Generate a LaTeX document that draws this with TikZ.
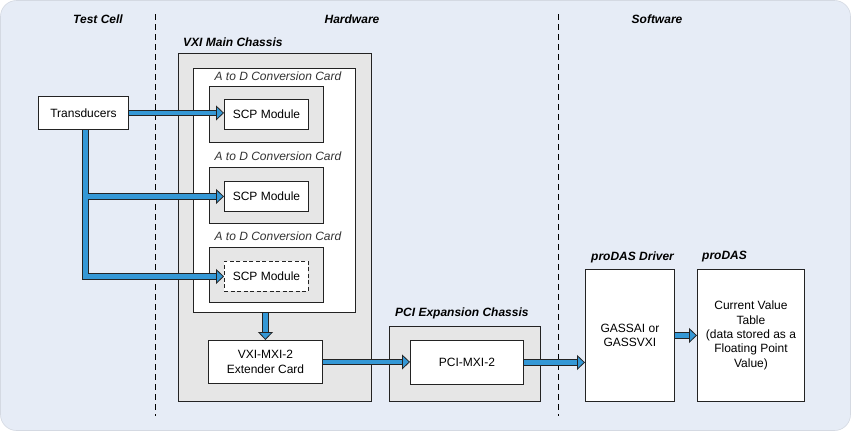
\documentclass[tikz,border=0pt]{standalone}
\usepackage{fontspec}
\setmainfont{Liberation Sans}
\usetikzlibrary{arrows.meta,positioning,calc}

\definecolor{bgblue}{RGB}{230,236,246}
\definecolor{boxgray}{RGB}{230,230,230}
\definecolor{flowblue}{RGB}{52,152,214}
\definecolor{edgegray}{RGB}{35,35,35}
\newcommand{\basefont}{\fontsize{12}{14.4}\selectfont}

\tikzset{
  box/.style={draw=edgegray, line width=0.9pt, fill=white, align=center,
    inner sep=0pt, anchor=north west, font=\basefont},
  graybox/.style={box, fill=boxgray},
  title/.style={anchor=west, inner sep=0pt, font=\basefont\bfseries\itshape},
  cardlabel/.style={inner sep=0pt, text=black!80, font=\basefont\itshape},
  divider/.style={draw=black, line width=0.8pt, dash pattern=on 6pt off 4pt},
  flow/.style={draw=flowblue, line width=4.6pt,
    -{Triangle[length=8pt,width=15pt,line width=0.8pt,fill=flowblue,color=edgegray]},
    preaction={draw=edgegray, line width=6.8pt, arrows=-, shorten >=7pt}},
}

\begin{document}
\begin{tikzpicture}[x=1pt, y=-1pt]
  \useasboundingbox (0,0) rectangle (851,432);
  %background panel
  \draw[fill=bgblue, draw=bgblue!92!black, line width=0.6pt, rounded corners=16pt]
    (0.5,0.5) rectangle (850.5,430.5);
  %column dividers and headings
  \draw[divider] (155,14) -- (155,416);
  \draw[divider] (558,14) -- (558,416);
  \node[title, anchor=center] (hcell) at (98,19) {Test Cell};
  \node[title, anchor=center] (hhard) at (352,19) {Hardware};
  \node[title, anchor=center] (hsoft) at (657,19) {Software};

  %test cell
  \node[box, minimum width=90pt, minimum height=33pt] (trans) at (38,96) {Transducers};

  %VXI main chassis with the three A to D cards
  \node[title] (lvxi) at (183,42) {VXI Main Chassis};
  \node[graybox, minimum width=193pt, minimum height=348pt] (vxi) at (178,53) {};
  \node[box, minimum width=162pt, minimum height=244pt] (adc) at ($(vxi.north west)+(15,15)$) {};
  \node[graybox, minimum width=114pt, minimum height=56pt] (card1) at (209,86) {};
  \node[graybox, minimum width=114pt, minimum height=56pt] (card2) at (209,167) {};
  \node[graybox, minimum width=114pt, minimum height=55pt] (card3) at (209,247) {};
  \node[cardlabel] (lcard1) at (278,76) {A to D Conversion Card};
  \node[cardlabel] (lcard2) at (278,156) {A to D Conversion Card};
  \node[cardlabel] (lcard3) at (278,236) {A to D Conversion Card};
  %SCP modules sit inside the cards
  \node[box, minimum width=84pt, minimum height=30pt] (scp1) at ($(card1.north west)+(15,13)$) {SCP Module};
  \node[box, minimum width=84pt, minimum height=30pt] (scp2) at ($(card2.north west)+(15,14)$) {SCP Module};
  \node[box, dashed, dash pattern=on 4pt off 2.5pt, minimum width=84pt, minimum height=30pt]
    (scp3) at ($(card3.north west)+(15,14)$) {SCP Module};
  \node[box, minimum width=114pt, minimum height=43pt] (ext) at (208,340) {VXI-MXI-2\\Extender Card};

  %PCI expansion chassis
  \node[title] (lpci) at (395,313) {PCI Expansion Chassis};
  \node[graybox, minimum width=151pt, minimum height=75pt] (pci) at (389,326) {};
  \node[box, minimum width=113pt, minimum height=44pt] (pcimxi) at ($(pci.north west)+(21,14)$) {PCI-MXI-2};

  %software
  \node[title] (ldrv) at (591,257) {proDAS Driver};
  \node[box, minimum width=89pt, minimum height=132pt] (gass) at (585,269) {GASSAI or\\GASSVXI};
  \node[title] (lpro) at (702,257) {proDAS};
  \node[box, minimum width=107pt, minimum height=132pt] (cvt) at (697,269)
    {Current Value\\Table\\(data stored as a\\Floating Point\\Value)};

  %signal flow
  \coordinate (split) at ($(trans.south)+(2,0)$);
  \draw[flow] (split) |- (scp3.west);
  \draw[flow] ($(split |- scp2.west)+(2.3,0)$) -- (scp2.west);
  \draw[flow] (trans.east) -- (trans.east -| scp1.west);
  \draw[flow] (adc.south -| ext.north) -- (ext.north);
  \draw[flow] (ext.east) -- (ext.east -| pcimxi.west);
  \draw[flow] (pcimxi.east) -- (pcimxi.east -| gass.west);
  \draw[flow] (gass.east) -- (cvt.west);
\end{tikzpicture}
\end{document}
